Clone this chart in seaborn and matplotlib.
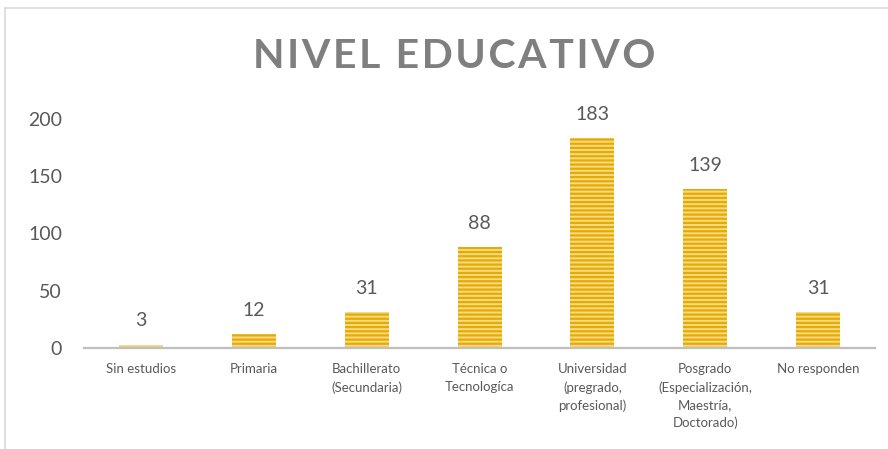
import matplotlib
matplotlib.use("Agg")
import matplotlib.pyplot as plt
import pandas as pd
import seaborn as sns

# data
categorias = [
    "Sin estudios",
    "Primaria",
    "Bachillerato\n(Secundaria)",
    "Técnica o\nTecnologíca",
    "Universidad\n(pregrado,\nprofesional)",
    "Posgrado\n(Especialización,\nMaestría,\nDoctorado)",
    "No responden",
]
valores = [3, 12, 31, 88, 183, 139, 31]
y_ticks = [0, 50, 100, 150, 200]
titulo = "NIVEL EDUCATIVO"

df = pd.DataFrame({"nivel": categorias, "total": valores})

sns.set_style("white")
plt.rcParams["font.family"] = ["Lato", "DejaVu Sans"]
plt.rcParams["hatch.linewidth"] = 1.6

gold = "#E5AB00"
light_gold = "#F8DA86"
text_gray = "#595959"

fig = plt.figure(figsize=(8.88, 4.49), dpi=100)
ax = fig.add_axes([0.095, 0.225, 0.89, 0.51])

sns.barplot(data=df, x="nivel", y="total", ax=ax, color=light_gold,
            width=0.39, saturation=1)

# striped bars like the original
for bar in ax.patches:
    bar.set_facecolor(light_gold)
    bar.set_edgecolor(gold)
    bar.set_hatch("----")
    bar.set_linewidth(0)

# value labels above each bar
for bar, v in zip(ax.patches, valores):
    ax.annotate(str(v), (bar.get_x() + bar.get_width() / 2, bar.get_height()),
                xytext=(0, 17), textcoords="offset points",
                ha="center", va="center", fontsize=14, color=text_gray)

ax.set_ylim(0, 200)
ax.set_yticks(y_ticks)
ax.set_xlim(-0.5, len(categorias) - 0.5)
ax.set_xlabel("")
ax.set_ylabel("")
ax.tick_params(axis="y", length=0, pad=16, labelsize=14, labelcolor=text_gray)
ax.tick_params(axis="x", length=0, pad=11, labelsize=9.5, labelcolor=text_gray)
for lbl in ax.get_xticklabels():
    lbl.set_linespacing(1.55)
    lbl.set_verticalalignment("top")

for side in ["top", "right", "left"]:
    ax.spines[side].set_visible(False)
ax.spines["bottom"].set_color("#BFBFBF")
ax.spines["bottom"].set_linewidth(1.6)

# letter-spaced title (hair space between letters)
fig.text(0.511, 0.875, "\u200a".join(titulo), ha="center", va="center",
         fontsize=29.5, fontweight="bold", color="#7F7F7F")

# chart border
fig.patches.append(plt.Rectangle((5 / 888, -0.01), 1.0, 1 - 8 / 449 + 0.01,
                                 transform=fig.transFigure, fill=False,
                                 edgecolor="#D9D9D9", linewidth=1.2))

fig.savefig("out.png", dpi=100, facecolor="white")
